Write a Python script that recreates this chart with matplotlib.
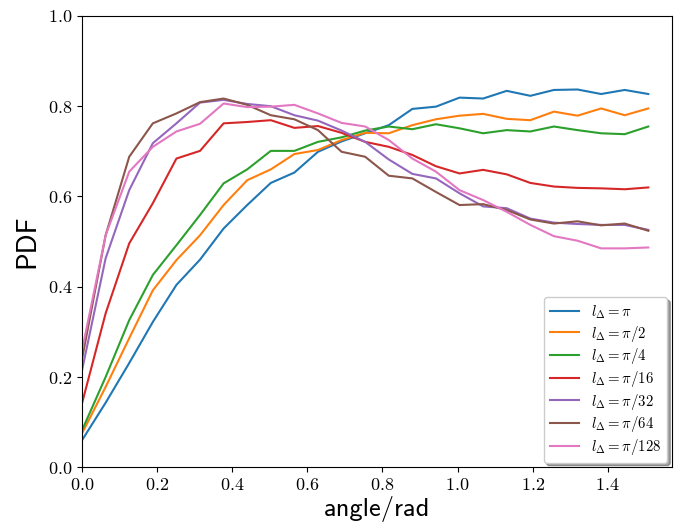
import numpy as np
import matplotlib
matplotlib.use("Agg")
import matplotlib.pyplot as plt

# angle bins (rad)
angle = np.arange(25) * np.pi / 50

labels = [r"$l_\Delta = \pi$", r"$l_\Delta = \pi/2$", r"$l_\Delta = \pi/4$",
          r"$l_\Delta = \pi/16$", r"$l_\Delta = \pi/32$", r"$l_\Delta = \pi/64$",
          r"$l_\Delta = \pi/128$"]

pdf_pi = [0.060, 0.143, 0.231, 0.322, 0.404, 0.460, 0.529, 0.581, 0.630, 0.653, 0.699, 0.722, 0.740,
          0.758, 0.794, 0.799, 0.819, 0.817, 0.834, 0.823, 0.836, 0.837, 0.827, 0.836, 0.827]
pdf_pi2 = [0.075, 0.178, 0.286, 0.392, 0.459, 0.514, 0.581, 0.636, 0.660, 0.694, 0.703, 0.725, 0.741,
           0.740, 0.758, 0.771, 0.779, 0.783, 0.772, 0.769, 0.788, 0.779, 0.795, 0.780, 0.795]
pdf_pi4 = [0.082, 0.200, 0.326, 0.426, 0.492, 0.559, 0.629, 0.660, 0.701, 0.701, 0.721, 0.731, 0.746,
           0.755, 0.749, 0.760, 0.751, 0.740, 0.747, 0.744, 0.755, 0.747, 0.740, 0.738, 0.755]
pdf_pi16 = [0.142, 0.341, 0.496, 0.585, 0.684, 0.701, 0.762, 0.765, 0.769, 0.752, 0.756, 0.741, 0.721,
            0.710, 0.692, 0.667, 0.651, 0.659, 0.649, 0.630, 0.622, 0.619, 0.618, 0.616, 0.620]
pdf_pi32 = [0.215, 0.463, 0.614, 0.718, 0.762, 0.808, 0.814, 0.805, 0.800, 0.780, 0.768, 0.746, 0.721,
            0.682, 0.650, 0.640, 0.607, 0.578, 0.574, 0.551, 0.542, 0.539, 0.537, 0.537, 0.526]
pdf_pi64 = [0.240, 0.514, 0.688, 0.762, 0.784, 0.809, 0.817, 0.803, 0.780, 0.771, 0.747, 0.699, 0.688,
            0.646, 0.640, 0.610, 0.581, 0.583, 0.570, 0.549, 0.540, 0.545, 0.536, 0.540, 0.524]
pdf_pi128 = [0.259, 0.514, 0.655, 0.710, 0.744, 0.761, 0.806, 0.798, 0.799, 0.803, 0.784, 0.763, 0.755,
             0.725, 0.684, 0.655, 0.614, 0.592, 0.566, 0.537, 0.512, 0.502, 0.485, 0.485, 0.487]

series = [pdf_pi, pdf_pi2, pdf_pi4, pdf_pi16, pdf_pi32, pdf_pi64, pdf_pi128]

plt.rcParams["mathtext.fontset"] = "cm"
plt.rcParams["axes.formatter.use_mathtext"] = True

fig = plt.figure(figsize=(6.78, 5.31), dpi=100)
ax = fig.add_axes([0.121, 0.12, 0.87, 0.85])

for y, lab in zip(series, labels):
    ax.plot(angle, y, label=lab, lw=1.5)

ax.set_xlim(0, np.pi / 2)
ax.set_ylim(0, 1.0)
ax.set_xticks(np.arange(0, 1.41, 0.2))
ax.set_yticks(np.arange(0, 1.01, 0.2))
for t in ax.get_xticklabels() + ax.get_yticklabels():
    t.set_fontfamily("cmr10")
    t.set_fontsize(13)

ax.set_xlabel("angle/rad", fontfamily="cmss10", fontsize=19, labelpad=2)
ax.set_ylabel("PDF", fontfamily="cmss10", fontsize=20, labelpad=6)

ax.legend(loc="lower right", fontsize=10.7, labelspacing=0.18, shadow=True,
          fancybox=True, framealpha=1, borderaxespad=0.3)

fig.savefig("out.png", dpi=100)
